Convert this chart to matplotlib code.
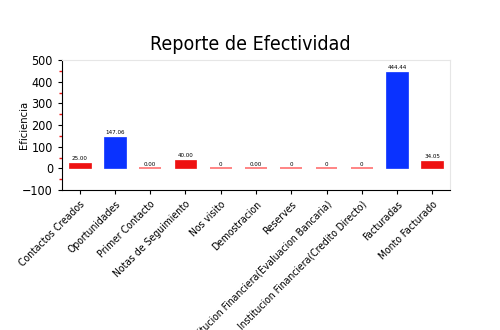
"""
Reporte de efectividad: barras por etapa del embudo de ventas
"""

import numpy as np
import matplotlib
matplotlib.use("Agg")
import matplotlib.pyplot as plt
from matplotlib.ticker import MultipleLocator

# fuente angosta
plt.rcParams['font.family'] = ['DejaVu Sans']
plt.rcParams['font.stretch'] = 'condensed'

# datos
etapas = ["Contactos Creados", "Oportunidades", "Primer Contacto",
          "Notas de Seguimiento", "Nos visito", "Demostracion", "Reserves",
          "Institucion Financiera(Evaluacion Bancaria)",
          "Institucion Financiera(Credito Directo)", "Facturadas",
          "Monto Facturado"]
valores = [25.00, 147.06, 0.00, 40.00, 0, 0.00, 0, 0, 0, 444.44, 34.05]
etiquetas = ["25.00", "147.06", "0.00", "40.00", "0", "0.00", "0", "0", "0",
             "444.44", "34.05"]

rojo = "#ee1111"
azul = "#0a32ff"
rosa = "#ff7070"

fig = plt.figure(figsize=(5, 3.3), dpi=100)
ax = fig.add_axes([0.124, 0.424, 0.776, 0.394])

x = np.arange(len(etapas))
colores = [azul if v > 100 else rojo for v in valores]
for i, v in enumerate(valores):
    if v == 0:
        # barra vacia: solo una linea rosada
        ax.bar(x[i], v, width=0.62, color=rosa, edgecolor=rosa, linewidth=1.2)
    else:
        ax.bar(x[i], v, width=0.62, color=colores[i], edgecolor=colores[i], linewidth=0.5)
    ax.text(x[i], v + 8, etiquetas[i], ha="center", va="bottom", fontsize=4.5)

ax.set_xlim(-0.5, len(etapas) - 0.5)
ax.set_ylim(-100, 500)
ax.yaxis.set_major_locator(MultipleLocator(100))
ax.yaxis.set_minor_locator(MultipleLocator(50))
ax.tick_params(axis="y", which="minor", length=2, color=rojo, width=1)
ax.tick_params(axis="y", which="major", length=3, labelsize=9)
ax.tick_params(axis="x", length=3, labelsize=7.5)
ax.set_xticks(x)
ax.set_xticklabels(etapas, rotation=45, ha="right", rotation_mode="anchor")
ax.set_ylabel("Eficiencia", fontsize=8)
ax.yaxis.set_label_coords(-0.085, 0.5)

for lado in ["top", "right"]:
    ax.spines[lado].set_color("#e6e6e6")

fig.suptitle("Reporte de Efectividad", fontsize=14, y=0.865, va="center")

plt.savefig("out.png", dpi=100)
